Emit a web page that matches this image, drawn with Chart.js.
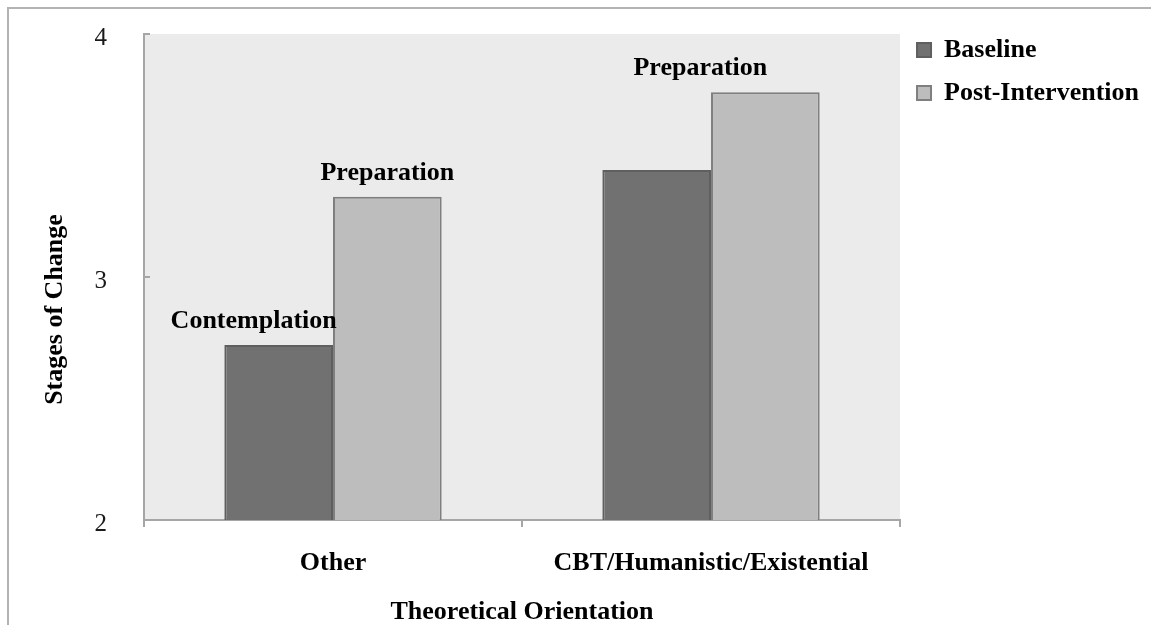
<!DOCTYPE html>
<html>
<head>
<meta charset="utf-8">
<script src="https://cdn.jsdelivr.net/npm/chart.js@4.4.1/dist/chart.umd.min.js"></script>
<style>
  html, body { margin: 0; padding: 0; background: #fff; }
  #wrap { position: relative; width: 1151px; height: 625px; overflow: hidden; }
  #frame { position: absolute; left: 7px; top: 7px; right: -5px; bottom: -5px;
           border-top: 2px solid #b3b3b3; border-left: 2px solid #b3b3b3; pointer-events: none; }
  canvas { position: absolute; left: 0; top: 0; }
</style>
</head>
<body>
<div id="wrap">
  <canvas id="chart" width="1151" height="625"></canvas>
  <div id="frame"></div>
</div>
<script>
const categories = ["Other", "CBT/Humanistic/Existential"];
const baseline = [2.72, 3.44];
const postIntervention = [3.33, 3.76];
const baselineStages = ["Contemplation", ""];
const postStages = ["Preparation", "Preparation"];
const yTicks = [2, 3, 4];

const serif = "'Liberation Serif', 'Times New Roman', serif";

// grey plot background
const plotBg = {
  id: "plotBg",
  beforeDraw(chart) {
    const { ctx, chartArea: a } = chart;
    ctx.save();
    ctx.fillStyle = "#ebebeb";
    ctx.fillRect(a.left, a.top, a.right - a.left, a.bottom - a.top);
    ctx.restore();
  }
};

// stage names over the bars
const stageLabels = {
  id: "stageLabels",
  afterDatasetsDraw(chart, args, opts) {
    const { ctx } = chart;
    ctx.save();
    ctx.font = "bold 26px " + serif;
    ctx.fillStyle = "#000";
    ctx.textAlign = "center";
    ctx.textBaseline = "alphabetic";
    chart.data.datasets.forEach((ds, i) => {
      chart.getDatasetMeta(i).data.forEach((bar, j) => {
        const txt = ds.stages[j];
        if (!txt) return;
        const dx = opts.shift[i][j];
        ctx.fillText(txt, bar.x + dx, bar.y - 17);
      });
    });
    ctx.restore();
  }
};

new Chart(document.getElementById("chart"), {
  type: "bar",
  data: {
    labels: categories,
    datasets: [
      {
        label: "Baseline",
        data: baseline,
        stages: baselineStages,
        backgroundColor: "#717171",
        borderColor: "#5f5f5f",
        borderWidth: 2
      },
      {
        label: "Post-Intervention",
        data: postIntervention,
        stages: postStages,
        backgroundColor: "#bdbdbd",
        borderColor: "#7f7f7f",
        borderWidth: 2
      }
    ]
  },
  options: {
    responsive: false,
    animation: false,
    devicePixelRatio: 1,
    layout: { padding: { left: 0, top: 20, right: 2, bottom: 0 } },
    datasets: { bar: { barPercentage: 1, categoryPercentage: 0.575 } },
    plugins: {
      legend: {
        position: "right",
        align: "start",
        labels: {
          font: { family: serif, size: 26, weight: "bold" },
          color: "#000",
          boxWidth: 14,
          boxHeight: 14,
          padding: 17
        }
      },
      tooltip: { enabled: false },
      stageLabels: { shift: [[-25, 0], [0, -65]] }
    },
    scales: {
      x: {
        grid: { drawOnChartArea: false, drawTicks: true, tickLength: 7, color: "#a6a6a6", lineWidth: 2 },
        border: { color: "#a6a6a6", width: 2 },
        ticks: { font: { family: serif, size: 26, weight: "bold" }, color: "#000", padding: 21 },
        title: {
          display: true,
          text: "Theoretical Orientation",
          font: { family: serif, size: 26, weight: "bold", lineHeight: 1 },
          color: "#000",
          padding: { top: 1, bottom: 0 }
        },
        afterFit(s) { s.height = 105; }
      },
      y: {
        min: 2,
        max: 4,
        afterBuildTicks(s) { s.ticks = yTicks.map(v => ({ value: v })); },
        grid: { drawOnChartArea: false, drawTicks: true, tickLength: -6, color: "#a6a6a6", lineWidth: 2 },
        border: { color: "#a6a6a6", width: 2 },
        ticks: {
          font: { family: serif, size: 25, lineHeight: "8px" },
          color: "#1a1a1a",
          padding: 43,
          // empty first line nudges the number a few px down, as in the original
          callback: (v) => ["", String(v)]
        },
        title: {
          display: true,
          text: "Stages of Change\u2002\u2002\u2002\u2002\u2002",
          font: { family: serif, size: 26, weight: "bold", lineHeight: 1 },
          color: "#000",
          padding: { top: 42, bottom: 0 }
        },
        afterFit(s) { s.width = 144; s.paddingTop = 34; }
      }
    }
  },
  plugins: [plotBg, stageLabels]
});
</script>
</body>
</html>
